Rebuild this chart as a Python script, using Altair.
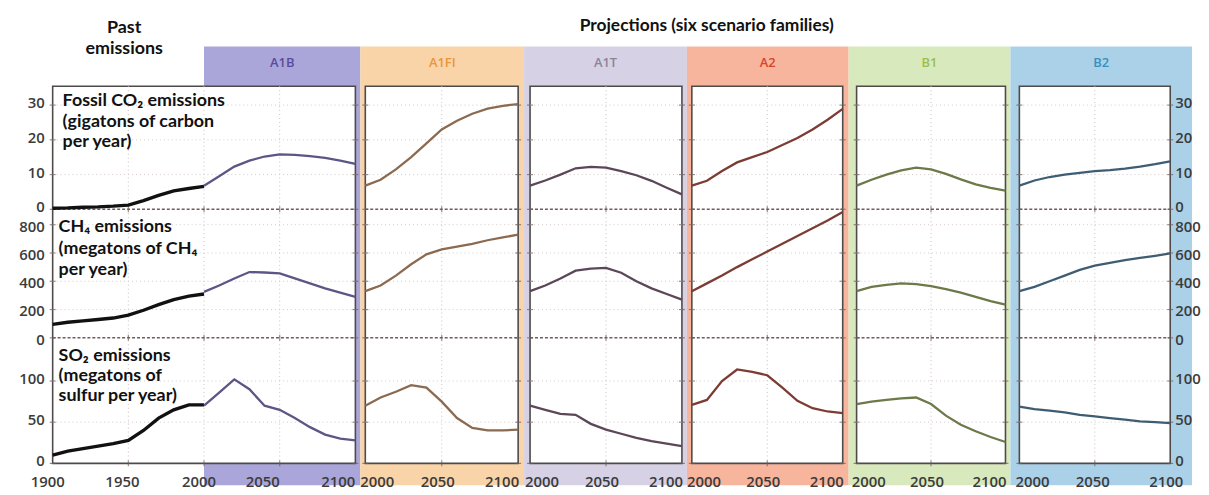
import altair as alt
import pandas as pd

# ---------------- data ----------------
scenarios = ["A1B", "A1FI", "A1T", "A2", "B1", "B2"]

years_past = [1900, 1910, 1920, 1930, 1940, 1950, 1960, 1970, 1980, 1990, 2000]
past_co2 = [0.3, 0.4, 0.6, 0.7, 0.9, 1.2, 2.5, 4.0, 5.3, 6.0, 6.6]
past_ch4 = [95, 110, 120, 130, 140, 160, 195, 235, 270, 295, 310]
past_so2 = [10, 15, 18, 21, 24, 28, 40, 55, 65, 71, 71]

years_proj = [2000, 2010, 2020, 2030, 2040, 2050, 2060, 2070, 2080, 2090, 2100]
co2_a1b = [6.8, 9.5, 12.3, 14.0, 15.2, 15.8, 15.7, 15.3, 14.8, 14.0, 13.1]
co2_a1fi = [6.8, 8.5, 11.5, 15.0, 19.0, 23.0, 25.5, 27.5, 29.0, 29.8, 30.3]
co2_a1t = [6.8, 8.3, 10.0, 11.8, 12.2, 12.0, 11.0, 9.8, 8.2, 6.2, 4.3]
co2_a2 = [6.8, 8.2, 11.0, 13.5, 15.0, 16.5, 18.5, 20.5, 23.0, 25.8, 28.9]
co2_b1 = [6.8, 8.5, 10.0, 11.2, 12.0, 11.5, 10.2, 8.6, 7.2, 6.2, 5.4]
co2_b2 = [6.8, 8.3, 9.3, 10.0, 10.5, 11.0, 11.3, 11.7, 12.3, 13.0, 13.8]

ch4_a1b = [325, 370, 420, 465, 462, 455, 420, 385, 350, 320, 290]
ch4_a1fi = [330, 370, 440, 520, 590, 625, 645, 665, 690, 710, 730]
ch4_a1t = [330, 370, 420, 475, 490, 495, 460, 400, 350, 310, 270]
ch4_a2 = [330, 385, 440, 500, 555, 610, 665, 720, 775, 830, 890]
ch4_b1 = [330, 360, 375, 385, 380, 365, 345, 320, 290, 260, 235]
ch4_b2 = [330, 360, 400, 440, 480, 510, 530, 550, 565, 580, 597]

so2_a1b = [70, 86, 102, 90, 70, 65, 55, 44, 35, 30, 28]
so2_a1fi = [70, 80, 87, 95, 92, 75, 55, 43, 40, 40, 41]
so2_a1t = [70, 65, 60, 59, 48, 41, 36, 31, 27, 24, 21]
so2_a2 = [71, 77, 100, 114, 111, 107, 92, 76, 67, 63, 61]
so2_b1 = [72, 75, 77, 79, 80, 72, 58, 47, 39, 32, 26]
so2_b2 = [69, 66, 64, 62, 59, 57, 55, 53, 51, 50, 49]

co2_ticks = [0, 10, 20, 30]
ch4_ticks = [0, 200, 400, 600, 800]
so2_ticks = [0, 50, 100]
xticks_first = [1900, 1950, 2000, 2050, 2100]
xticks_proj = [2000, 2050, 2100]

co2_label = ["Fossil CO\u2082 emissions", "(gigatons of carbon", "per year)"]
ch4_label = ["CH\u2084 emissions", "(megatons of CH\u2084", "per year)"]
so2_label = ["SO\u2082 emissions", "(megatons of", "sulfur per year)"]

# ---------------- styles / layout ----------------
band_colors = ["#aaa6da", "#f9d4a8", "#d6d1e4", "#f7b59e", "#d8e9bd", "#abd1e9"]
header_colors = ["#5b4b9b", "#e8963c", "#8c8399", "#d4442d", "#9bbf4d", "#3592bd"]
line_colors = ["#5b5686", "#8b6a50", "#5c4759", "#7c3c34", "#6c7948", "#3e5d73"]

FONT = "Lato"
TICKFONT = "Open Sans"
TICKSIZE = 15
TOP, BOTTOM = 8, 487          # page y of plot area top/bottom
H = BOTTOM - TOP
# (left, right, box_left, box_right, first_year) in page px
cols = [
    (8, 363, 53, 358, 1900),
    (363, 528, 368, 522, 2000),
    (528, 692, 534, 687, 2000),
    (692, 855, 697, 849, 2000),
    (855, 1018, 863, 1013, 2000),
    (1018, 1201, 1027, 1179, 2000),
]
BOX_TOP, BOX_BOT = 85 - TOP, 465 - TOP
BAND_TOP = 45 - TOP


def ydom(p0, p1, v1):
    slope = (p0 - p1) / v1
    return [-(BOTTOM - p0) / slope, (p0 - TOP) / slope]


rows = [
    dict(dom=ydom(209, 104, 30), ticks=co2_ticks, past=past_co2,
         proj=[co2_a1b, co2_a1fi, co2_a1t, co2_a2, co2_b1, co2_b2],
         divider=True, label=co2_label, lx=63 - 8, ly=[100, 121, 141], dy=-2),
    dict(dom=ydom(338.5, 224.5, 800), ticks=ch4_ticks, past=past_ch4,
         proj=[ch4_a1b, ch4_a1fi, ch4_a1t, ch4_a2, ch4_b1, ch4_b2],
         divider=True, label=ch4_label, lx=59 - 8, ly=[227, 249, 270], dy=2),
    dict(dom=ydom(465, 382, 100), ticks=so2_ticks, past=past_so2,
         proj=[so2_a1b, so2_a1fi, so2_a1t, so2_a2, so2_b1, so2_b2],
         divider=False, label=so2_label, lx=59 - 8, ly=[357, 377, 397], dy=-2),
]

one = pd.DataFrame({"k": [0]})


def column(i):
    L, R, bl, br, y0 = cols[i]
    w = R - L
    s = (br - bl) / (2100 - y0)
    xlo = y0 - (bl - L) / s
    xhi = 2100 + (R - br) / s
    xs = alt.Scale(domain=[xlo, xhi], nice=False, zero=False)

    def X(f):
        return alt.X(f, type="quantitative", scale=xs, axis=None)

    layers = []
    band_start = 2000 if i == 0 else xlo
    band_df = pd.DataFrame({"x": [band_start], "x2": [xhi], "name": [scenarios[i]]})
    layers.append(alt.Chart(band_df).mark_rect(color=band_colors[i]).encode(
        x=X("x"), x2="x2", y=alt.value(BAND_TOP), y2=alt.value(H)))
    layers.append(alt.Chart(band_df).transform_calculate(xm="(datum.x + datum.x2) / 2")
                  .mark_text(font=TICKFONT, fontSize=13, fontWeight=600,
                             color=header_colors[i], baseline="middle")
                  .encode(x=X("xm"), y=alt.value(62 - TOP), text="name:N"))

    box_df = pd.DataFrame({"x": [y0], "x2": [2100]})
    layers.append(alt.Chart(box_df).mark_rect(fill="white", stroke="#4f4a4a", strokeWidth=1.6).encode(
        x=X("x"), x2="x2", y=alt.value(BOX_TOP), y2=alt.value(BOX_BOT)))

    vgrid = [1950, 2000, 2050] if i == 0 else [2050]
    layers.append(alt.Chart(pd.DataFrame({"year": vgrid})).mark_rule(
        color="#cdbfbf", strokeDash=[1, 3], strokeWidth=1).encode(
        x=X("year"), y=alt.value(BOX_TOP), y2=alt.value(BOX_BOT)))

    for r in rows:
        ys = alt.Scale(domain=r["dom"], nice=False, zero=False)

        def Y(f):
            return alt.Y(f, type="quantitative", scale=ys, axis=None)

        grid_df = pd.DataFrame({"v": [t for t in r["ticks"] if t != 0], "x": y0, "x2": 2100})
        layers.append(alt.Chart(grid_df).mark_rule(color="#d6c9c9", strokeDash=[1, 3], strokeWidth=1).encode(
            x=X("x"), x2="x2", y=Y("v")))
        edge_df = pd.DataFrame({"v": r["ticks"] * 2,
                                "x": [y0] * len(r["ticks"]) + [2100] * len(r["ticks"])})
        layers.append(alt.Chart(edge_df).mark_tick(orient="horizontal", size=6, thickness=1.2,
                                                   color="#6e5d5a").encode(x=X("x"), y=Y("v")))
        if r["divider"]:
            div_df = pd.DataFrame({"v": [0], "x": [y0], "x2": [2100]})
            layers.append(alt.Chart(div_df).mark_rule(color="#6e5d5a", strokeDash=[3, 2], strokeWidth=1.5).encode(
                x=X("x"), x2="x2", y=Y("v")))
        tk_df = pd.DataFrame({"year": vgrid, "v": 0})
        layers.append(alt.Chart(tk_df).mark_tick(orient="vertical", size=6, thickness=1.2,
                                                 color="#6e5d5a").encode(x=X("year"), y=Y("v")))

        if i == 0:
            past_df = pd.DataFrame({"year": years_past, "v": r["past"]})
            layers.append(alt.Chart(past_df).mark_line(color="#111111", strokeWidth=3.4).encode(
                x=X("year"), y=Y("v")))
        proj_df = pd.DataFrame({"year": years_proj, "v": r["proj"][i]})
        layers.append(alt.Chart(proj_df).mark_line(color=line_colors[i], strokeWidth=2.3).encode(
            x=X("year"), y=Y("v")))

        lab_df = pd.DataFrame({"v": r["ticks"], "lab": [str(t) for t in r["ticks"]]})
        if i == 0:
            lab_df["x"] = y0
            layers.append(alt.Chart(lab_df).mark_text(
                font=TICKFONT, fontSize=TICKSIZE, fontWeight=600, color="#3b3b3b", align="right",
                baseline="middle", dx=-8, dy=r["dy"]).encode(x=X("x"), y=Y("v"), text="lab:N"))
            for line, py in zip(r["label"], r["ly"]):
                layers.append(alt.Chart(one).mark_text(
                    text=line, font=FONT, fontSize=18, fontWeight="bold", color="#111111",
                    align="left", baseline="middle").encode(x=alt.value(r["lx"]), y=alt.value(py - TOP)))
        if i == len(cols) - 1:
            lab_df["x"] = 2100
            layers.append(alt.Chart(lab_df).mark_text(
                font=TICKFONT, fontSize=TICKSIZE, fontWeight=600, color="#3b3b3b", align="left",
                baseline="middle", dx=5, dy=r["dy"]).encode(x=X("x"), y=Y("v"), text="lab:N"))

    # x tick labels
    xt = xticks_first if i == 0 else xticks_proj
    if i == 0:
        styles = [("center", -5), ("center", -6), ("center", -5), ("right", 0), ("right", 0)]
    elif i == len(cols) - 1:
        styles = [("left", -4), ("center", -2), ("center", -4)]
    else:
        styles = [("left", -5), ("center", -4), ("right", 1)]
    for yr, (al, dx) in zip(xt, styles):
        layers.append(alt.Chart(pd.DataFrame({"year": [yr], "lab": [str(yr)]})).mark_text(
            font=TICKFONT, fontSize=TICKSIZE, fontWeight=600, color="#3b3b3b", align=al, dx=dx,
            baseline="middle").encode(x=X("year"), y=alt.value(484 - TOP), text="lab:N"))

    if i == 0:
        for line, py in [("Past", 26), ("emissions", 48)]:
            layers.append(alt.Chart(one).mark_text(
                text=line, font=FONT, fontSize=18, fontWeight="bold", color="#111111",
                align="center", baseline="middle").encode(x=alt.value(125 - L), y=alt.value(py - TOP)))
    if i == 3:
        layers.append(alt.Chart(one).mark_text(
            text="Projections (six scenario families)", font=FONT, fontSize=17.5, fontWeight="bold",
            color="#111111", align="center", baseline="middle").encode(
            x=alt.value(712 - L), y=alt.value(24 - TOP)))

    return alt.layer(*layers).resolve_scale(y="independent").properties(width=w, height=H)


chart = alt.hconcat(*[column(i) for i in range(len(cols))], spacing=0, bounds="flush").configure_view(
    stroke=None).properties(padding=0, background="white")

chart.save("out.html", embed_options={"renderer": "svg", "actions": False})
